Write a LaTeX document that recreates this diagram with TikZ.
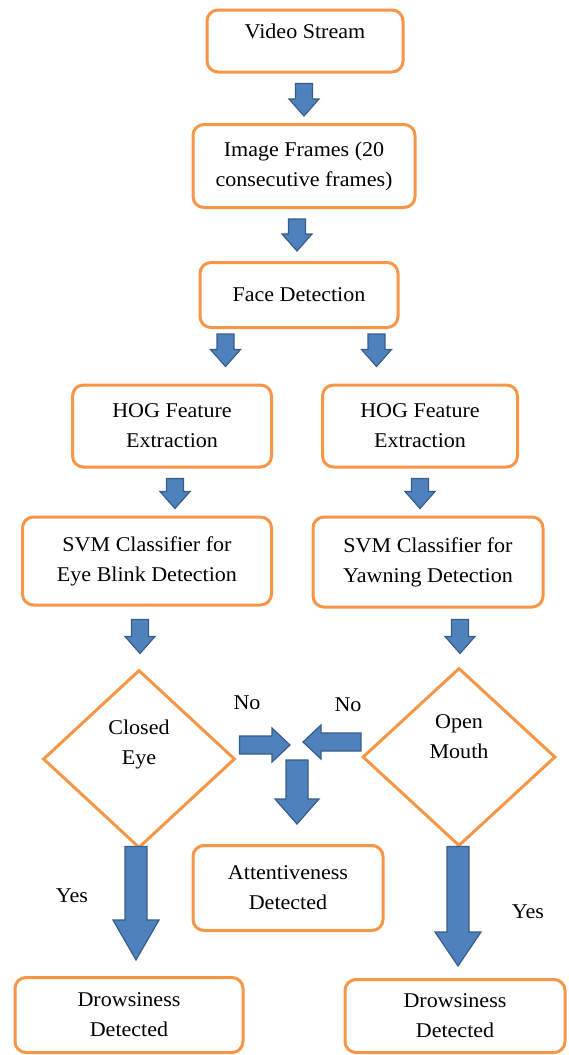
\documentclass[tikz,border=0pt]{standalone}
\usepackage{fontspec}
\setmainfont{Liberation Serif}[FakeStretch=1.05]
\usetikzlibrary{shapes.geometric,calc}
\definecolor{boxor}{HTML}{F79646}
\definecolor{arrfill}{HTML}{4F81BD}
\definecolor{arrline}{HTML}{385D8A}
% down block arrow: #1 start, #2 end (only y used), #3 shaft half width, #4 head half width, #5 head length
\newcommand{\dnblk}[5]{\filldraw[blk] let \p1=(#1), \p2=(#2) in
  ({\x1-#3},\y1) -- ({\x1+#3},\y1) -- ({\x1+#3},{\y2+#5}) -- ({\x1+#4},{\y2+#5}) -- (\x1,\y2)
  -- ({\x1-#4},{\y2+#5}) -- ({\x1-#3},{\y2+#5}) -- cycle;}
% horizontal block arrow: #1 start, #2 end (only x used), #5 head length (negative for leftward)
\newcommand{\hzblk}[5]{\filldraw[blk] let \p1=(#1), \p2=(#2) in
  (\x1,{\y1-#3}) -- (\x1,{\y1+#3}) -- ({\x2-(#5)},{\y1+#3}) -- ({\x2-(#5)},{\y1+#4}) -- (\x2,\y1)
  -- ({\x2-(#5)},{\y1-#4}) -- ({\x2-(#5)},{\y1-#3}) -- cycle;}
\tikzset{
  every node/.style={font=\fontsize{21}{30}\selectfont},
  box/.style={draw=boxor, line width=3pt, rounded corners=11pt, fill=white,
    align=center, inner sep=0pt},
  dec/.style={draw=boxor, line width=3pt, diamond, fill=white, align=center,
    inner sep=0pt, aspect=1.08},
  blk/.style={fill=arrfill, draw=arrline, line width=1.2pt, line join=miter},
  lbl/.style={inner sep=0pt}
}
\begin{document}
\begin{tikzpicture}[x=1pt,y=-1pt]
\useasboundingbox (0,0) rectangle (569,1055);
\node[box, minimum width=196pt, minimum height=62pt, text depth=20pt] (vs) at (305,41) {Video Stream};
\node[box, minimum width=222pt, minimum height=83pt] (if) at (304,166) {Image Frames (20\\consecutive frames)};
\node[box, minimum width=198pt, minimum height=65pt] (fd) at (299,295) {Face Detection};
\node[box, minimum width=199pt, minimum height=82pt] (hl) at (172,426) {HOG Feature\\Extraction};
\node[box, minimum width=195pt, minimum height=82pt] (hr) at (420,426) {HOG Feature\\Extraction};
\node[box, minimum width=249pt, minimum height=88pt] (sl) at (147,561) {SVM Classifier for\\Eye Blink Detection};
\node[box, minimum width=230pt, minimum height=90pt] (sr) at (428,562) {SVM Classifier for\\Yawning Detection};
\node[dec, minimum width=192pt, minimum height=178pt, text depth=34pt] (ce) at (139,759) {Closed\\Eye};
\node[dec, minimum width=193pt, minimum height=178pt, text depth=40pt] (om) at (459,757) {Open\\Mouth};
\node[box, minimum width=190pt, minimum height=85pt] (at) at (288,888) {Attentiveness\\Detected};
\node[box, minimum width=228pt, minimum height=75pt] (dl) at (129,1015) {Drowsiness\\Detected};
\node[box, minimum width=220pt, minimum height=73pt] (dr) at (455,1016) {Drowsiness\\Detected};

\node[lbl] (no1) at (247,703) {No};
\node[lbl] (no2) at (348,705) {No};
\node[lbl] (y1) at (72,896) {Yes};
\node[lbl] (y2) at (528,912) {Yes};

\coordinate (jl) at (290,745);
\coordinate (jr) at (303,742);
\coordinate (jm) at (297,760);

\dnblk{$(vs.south)+(-1pt,-10pt)$}{$(if.north)+(0pt,7pt)$}{8.5pt}{15pt}{17pt}
\dnblk{$(if.south)+(-7pt,-10pt)$}{$(fd.north)+(0pt,10pt)$}{8.5pt}{15pt}{17pt}
\dnblk{$(fd.south west)+(27pt,-5pt)$}{$(hl.north)+(0pt,17pt)$}{8.5pt}{15pt}{17pt}
\dnblk{$(fd.south east)+(-23pt,-5pt)$}{$(hr.north)+(0pt,17pt)$}{8.5pt}{15pt}{17pt}
\dnblk{$(hl.south)+(3pt,-10pt)$}{$(sl.north)+(0pt,7pt)$}{8.5pt}{15pt}{17pt}
\dnblk{$(hr.south)+(0pt,-10pt)$}{$(sr.north)+(0pt,7pt)$}{8.5pt}{15pt}{17pt}
\dnblk{$(sl.south)+(-7pt,-13pt)$}{$(ce.north)+(0pt,15pt)$}{8.5pt}{15pt}{17pt}
\dnblk{$(sr.south)+(32pt,-11pt)$}{$(om.north)+(0pt,13pt)$}{8.5pt}{15pt}{17pt}
\hzblk{$(ce.east)+(3pt,14pt)$}{jl}{9pt}{17pt}{18pt}
\hzblk{$(om.west)+(0pt,15pt)$}{jr}{9pt}{17pt}{-18pt}
\dnblk{jm}{$(at.north)+(9pt,20pt)$}{11pt}{22pt}{25pt}
\dnblk{$(ce.south)+(-3pt,3pt)$}{$(dl.north)+(7pt,16pt)$}{11pt}{23pt}{40pt}
\dnblk{$(om.south)+(-1pt,1pt)$}{$(dr.north)+(3pt,12pt)$}{11pt}{23pt}{34pt}
\end{tikzpicture}
\end{document}
